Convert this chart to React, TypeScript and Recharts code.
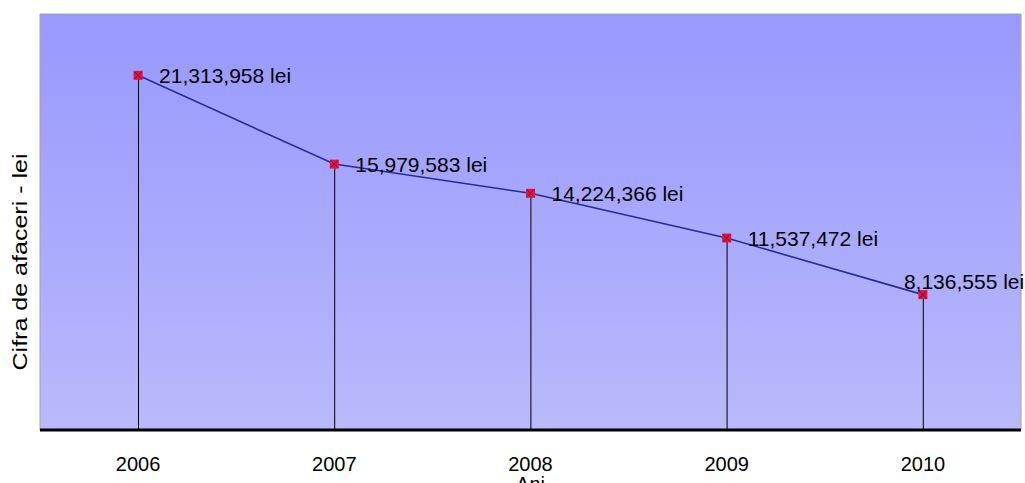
import { ComposedChart, Bar, Line, XAxis, YAxis, ReferenceArea, LabelList } from "recharts";

const years = ["2006", "2007", "2008", "2009", "2010"];
const turnover = [21313958, 15979583, 14224366, 11537472, 8136555];
const yDomain = [0, 25000000];

const data = years.map((year, i) => ({ year, value: turnover[i] }));

const FONT = "'Liberation Sans', Arial, sans-serif";

// red square with a dark cross, like the old office-style marker
function CrossSquare(props: any) {
  const { cx, cy } = props;
  if (cx == null || cy == null) return null;
  const h = 4.5;
  return (
    <g>
      <rect x={cx - h} y={cy - h} width={h * 2} height={h * 2} fill="#ee1030" />
      <line x1={cx - h + 1} y1={cy - h + 1} x2={cx + h - 1} y2={cy + h - 1} stroke="#4a1a70" strokeWidth={1} />
      <line x1={cx - h + 1} y1={cy + h - 1} x2={cx + h - 1} y2={cy - h + 1} stroke="#4a1a70" strokeWidth={1} />
    </g>
  );
}

// thin drop line from the point down to the axis
function DropLine(props: any) {
  const { x, y, width, height } = props;
  const cx = x + width / 2;
  return <line x1={cx} y1={y} x2={cx} y2={y + height} stroke="#000" strokeWidth={1} />;
}

function ValueLabel(props: any) {
  const { x, y, value, index } = props;
  const text = `${Number(value).toLocaleString("en-US")} lei`;
  // last label sits up and to the left so it stays inside the plot
  const last = index === years.length - 1;
  return (
    <text
      x={last ? x - 19 : x + 21}
      y={last ? y - 13 : y}
      dominantBaseline="central"
      fontSize={21}
      fontFamily={FONT}
      fill="#000"
    >
      {text}
    </text>
  );
}

export default function App() {
  return (
    <div style={{ position: "absolute", left: 0, top: 0, background: "#fff" }}>
      <ComposedChart
        width={1025}
        height={483}
        data={data}
        margin={{ top: 14, right: 4, bottom: 0, left: 0 }}
      >
        <defs>
          <linearGradient id="plotBg" x1="0" y1="0" x2="0" y2="1">
            <stop offset="0%" stopColor="#9898fe" />
            <stop offset="100%" stopColor="#b9b9fc" />
          </linearGradient>
        </defs>
        <ReferenceArea
          y1={yDomain[0]}
          y2={yDomain[1]}
          fill="url(#plotBg)"
          fillOpacity={1}
          stroke="#a4a4a4"
          strokeWidth={1}
          ifOverflow="visible"
        />
        <XAxis
          dataKey="year"
          height={53}
          tickLine={false}
          tickSize={0}
          tickMargin={27}
          axisLine={{ stroke: "#000", strokeWidth: 3 }}
          tick={{ fontSize: 20, fill: "#000", fontFamily: FONT }}
          label={{
            content: (p: any) => {
              const vb = p.viewBox;
              // axis title sits low, partly under the bottom edge
              return (
                <text
                  x={vb.x + vb.width / 2}
                  y={vb.y + 47}
                  dy="0.71em"
                  textAnchor="middle"
                  fontSize={20}
                  fontFamily={FONT}
                  fill="#000"
                >
                  Ani
                </text>
              );
            },
          }}
        />
        <YAxis
          width={40}
          domain={yDomain}
          tick={false}
          tickLine={false}
          axisLine={false}
          label={{
            content: (p: any) => {
              const vb = p.viewBox;
              const cx = vb.x + 20;
              const cy = vb.y + vb.height / 2 + 40;
              return (
                <text
                  x={cx}
                  y={cy}
                  transform={`rotate(-90 ${cx} ${cy})`}
                  textAnchor="middle"
                  dominantBaseline="central"
                  fontSize={20}
                  fontFamily={FONT}
                  textLength={217}
                  lengthAdjust="spacingAndGlyphs"
                  fill="#000"
                >
                  Cifra de afaceri - lei
                </text>
              );
            },
          }}
        />
        <Bar dataKey="value" barSize={1} shape={<DropLine />} isAnimationActive={false} />
        <Line
          dataKey="value"
          stroke="#2a2a9c"
          strokeWidth={1.6}
          dot={<CrossSquare />}
          activeDot={false}
          isAnimationActive={false}
        >
          <LabelList dataKey="value" content={<ValueLabel />} />
        </Line>
      </ComposedChart>
    </div>
  );
}
